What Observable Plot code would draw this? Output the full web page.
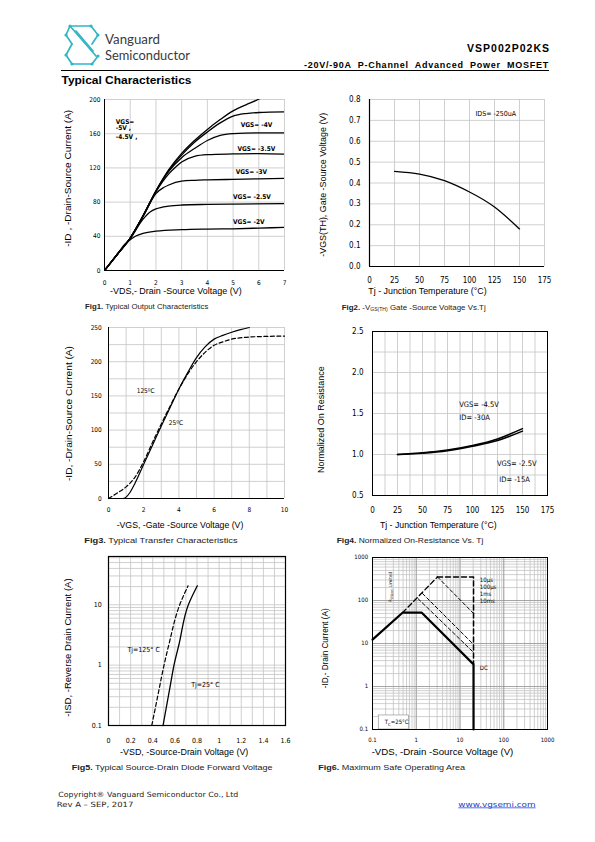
<!DOCTYPE html>
<html><head><meta charset="utf-8">
<script src="https://cdn.jsdelivr.net/npm/d3@7"></script>
<script src="https://cdn.jsdelivr.net/npm/@observablehq/plot@0.6"></script>
<style>
html,body{margin:0;padding:0;background:#fff}
#page{position:relative;width:595px;height:842px;overflow:hidden;background:#fff}
</style></head>
<body><div id="page"></div>
<script>
// ---------------- DATA ----------------
// Fig1 output characteristics  [VDS, ID]
const fig1XTicks = [0,1,2,3,4,5,6,7];
const fig1YTicks = [0,40,80,120,160,200];
const fig1Vgs5  = [[0,0],[0.5,19],[1,38],[1.5,64],[2,93],[2.5,118],[3,137],[3.5,152],[4,165],[4.5,176.5],[5,186.7],[5.5,193.8],[5.9,199],[6.1,202]];
const fig1Vgs45 = [[0,0],[0.5,19],[1,38],[1.5,64],[2,93],[2.5,117],[3,135],[3.5,150],[4,162],[4.5,172.6],[5,180.5],[5.5,183.6],[6,184.8],[7,185.5]];
const fig1Vgs4  = [[0,0],[0.5,19],[1,38],[1.5,64],[2,93],[2.5,116],[3,132],[3.5,142.6],[4,152],[4.5,158],[5,160],[6,161],[7,161]];
const fig1Vgs35 = [[0,0],[0.5,19],[1,38],[1.5,64],[2,92],[2.5,113],[2.8,122],[3,127],[3.5,133.6],[4,135.5],[5,136.3],[6,136.7],[7,136]];
const fig1Vgs3  = [[0,0],[0.5,19],[1,38],[1.5,63],[2,90],[2.3,97],[2.5,100],[3,104.5],[3.5,105.5],[4,106],[5,106.6],[7,107.8]];
const fig1Vgs25 = [[0,0],[0.5,19],[1,37],[1.5,60],[1.8,69],[2,72],[2.5,75.4],[3,76.6],[4,77.3],[5,77.7],[7,78.3]];
const fig1Vgs2  = [[0,0],[0.5,19],[0.8,31],[1,36],[1.2,40],[1.5,43.5],[2,46],[3,47.7],[4,48.4],[5,48.8],[6,49.6],[7,50.4]];
const fig1LabelText = ["VGS= -4V","VGS= -3.5V","VGS= -3V","VGS= -2.5V","VGS= -2V","VGS=","-5V ,","-4.5V ,"];
const fig1LabelVds  = [5.3,5.17,5.1,5.0,5.0,0.44,0.44,0.44];
const fig1LabelId   = [170,142,115,86,56.5,174,166.5,156];

// Fig2 threshold voltage vs Tj
const fig2XTicks = [0,25,50,75,100,125,150,175];
const fig2YTicks = [0,0.1,0.2,0.3,0.4,0.5,0.6,0.7,0.8];
const fig2Tj  = [25,50,75,100,125,150];
const fig2Vth = [0.456,0.443,0.411,0.357,0.285,0.18];
const fig2LabelText = ["IDS= -250uA"];
const fig2LabelTj = [106];
const fig2LabelV  = [0.73];

// Fig3 transfer characteristics [VGS, ID]
const fig3XTicks = [0,2,4,6,8,10];
const fig3XGrid  = [0,1,2,3,4,5,6,7,8,9,10];
const fig3YTicks = [0,50,100,150,200,250];
const fig3YGrid  = [0,25,50,75,100,125,150,175,200,225,250];
const fig3T25  = [[0,0],[0.8,0],[1,2],[1.2,8],[1.5,22],[2,50],[2.5,78],[3,106],[3.5,133],[4,160],[4.5,184],[5,206],[5.5,222],[6,233],[6.5,238.5],[7,243],[7.5,247],[8,250]];
const fig3T125 = [[0,0],[0.5,8],[1,17],[1.5,31],[2,54],[2.5,82],[3,109],[3.5,135],[4,160],[4.5,182],[5,200],[5.5,214],[6,224],[6.5,229],[7,233],[8,236],[9,237],[10,237.5]];
const fig3LabelText = ["125ºC","25ºC"];
const fig3LabelVgs  = [1.6,3.43];
const fig3LabelId   = [158,111];

// Fig4 normalized on-resistance vs Tj
const fig4XTicks = [0,25,50,75,100,125,150,175];
const fig4XGrid  = [0,12.5,25,37.5,50,62.5,75,87.5,100,112.5,125,137.5,150,162.5,175];
const fig4YTicks = [0.5,1.0,1.5,2.0,2.5];
const fig4YGrid  = [0.5,0.75,1.0,1.25,1.5,1.75,2.0,2.25,2.5];
const fig4Tj   = [25,50,75,100,125,150];
const fig4R45  = [1.0,1.02,1.055,1.11,1.19,1.315];
const fig4R25  = [1.0,1.015,1.045,1.10,1.17,1.285];
const fig4LabelText = ["VGS= -4.5V","ID= -30A","VGS= -2.5V","ID= -15A"];
const fig4LabelTj = [86.7,86.7,124.4,126.7];
const fig4LabelR  = [1.61,1.45,0.89,0.70];

// Fig5 diode forward voltage [VSD, ISD]
const fig5XTicks = [0,0.2,0.4,0.6,0.8,1,1.2,1.4,1.6];
const fig5XGrid  = [0,0.1,0.2,0.3,0.4,0.5,0.6,0.7,0.8,0.9,1,1.1,1.2,1.3,1.4,1.5,1.6];
const fig5YTicks = [0.1,1,10];
const fig5YGrid  = [0.1,0.2,0.3,0.4,0.5,0.6,0.7,0.8,0.9,1,2,3,4,5,6,7,8,9,10,20,30,40,50,60];
const fig5Tj25  = [[0.493,0.1],[0.562,0.5],[0.592,1],[0.638,2.24],[0.722,10],[0.803,20.6]];
const fig5Tj125 = [[0.391,0.1],[0.444,0.3],[0.502,1],[0.547,2.24],[0.644,10],[0.719,20.6]];
const fig5LabelText = ["Tj=125° C","Tj=25° C"];
const fig5LabelV = [0.171,0.747];
const fig5LabelI = [1.8,0.476];

// Fig6 safe operating area [VDS, ID]
const fig6Ticks = [0.1,1,10,100,1000];
const fig6Grid  = [0.1,0.2,0.3,0.4,0.5,0.6,0.7,0.8,0.9,1,2,3,4,5,6,7,8,9,10,20,30,40,50,60,70,80,90,100,200,300,400,500,600,700,800,900,1000];
const fig6DC    = [[0.1,12.3],[0.485,52],[1.34,52],[20.4,3.27],[20.4,0.1]];
const fig6RLim  = [[0.485,52],[3.06,353]];
const fig6Us10  = [[3.06,353],[20.4,353],[20.4,3.4]];
const fig6Us100 = [[3.06,353],[20.4,50]];
const fig6Ms1   = [[1.39,145],[20.4,9.5]];
const fig6Ms10  = [[1.1,110],[20.4,6.2]];
const fig6LabelText = ["10μs","100μs","1ms","10ms","DC"];
const fig6LabelV = [28.4,28.4,28.4,28.4,28.4];
const fig6LabelI = [296,206,140,96,2.74];
const fig6NoteText = ["TC=25°C"];
const fig6NoteV = [0.191];
const fig6NoteI = [0.148];
const fig6NoteBoxV = [0.139,0.676];
const fig6NoteBoxI = [0.1,0.212];
const fig6RLimText = ["RDS(on) Limited"];
const fig6RLimV = [0.262];
const fig6RLimI = [207];

// ---------------- RENDER ----------------
const NARROW = '"Liberation Sans Narrow","Arial Narrow","DejaVu Sans Condensed",sans-serif';
const SANS = '"Liberation Sans",Arial,sans-serif';
const GRID = "#c4c4c4";
const page = document.getElementById("page");
const NS = "http://www.w3.org/2000/svg";
const X = d => d[0], Y = d => d[1];

function mk(cfg) {
  const ml = 40, mr = 15, mt = 10, mb = 25;
  const svg = Plot.plot({
    width: cfg.R - cfg.L + ml + mr,
    height: cfg.B - cfg.T + mt + mb,
    marginLeft: ml, marginRight: mr, marginTop: mt, marginBottom: mb,
    x: cfg.x, y: cfg.y,
    style: {background: "none", fontFamily: NARROW, overflow: "visible", color: "black"},
    marks: cfg.marks
  });
  svg.style.position = "absolute";
  svg.style.left = (cfg.L - ml) + "px";
  svg.style.top = (cfg.T - mt) + "px";
  page.appendChild(svg);
  return svg;
}
const gx = (t, o={}) => Plot.gridX(t, {stroke: GRID, strokeOpacity: 1, strokeWidth: 0.8, ...o});
const gy = (t, o={}) => Plot.gridY(t, {stroke: GRID, strokeOpacity: 1, strokeWidth: 0.8, ...o});
const ax = (t, pad, fs, fmt) => Plot.axisX(t, {tickSize: 0, tickPadding: pad, fontSize: fs, label: null, tickFormat: fmt});
const ay = (t, pad, fs, fmt) => Plot.axisY(t, {tickSize: 0, tickPadding: pad, fontSize: fs, label: null, tickFormat: fmt});
const idx = a => a.map((_, i) => i);

// Fig1
mk({L:104, R:284, T:99, B:270,
  x: {domain: [0,7]}, y: {domain: [0,200]},
  marks: [
    gx(fig1XTicks), gy(fig1YTicks),
    Plot.ruleX([0], {stroke: "black", strokeWidth: 1}),
    Plot.ruleY([0], {stroke: "black", strokeWidth: 1}),
    ax(fig1XTicks, 9.4, 6.5, d3.format("d")), ay(fig1YTicks, 4, 6.5, d3.format("d")),
    ...[fig1Vgs5, fig1Vgs45, fig1Vgs4, fig1Vgs35, fig1Vgs3, fig1Vgs25, fig1Vgs2].map(s =>
      Plot.line(s, {x: X, y: Y, stroke: "black", strokeWidth: 1.3, curve: "monotone-x", clip: true})),
    Plot.text(idx(fig1LabelText), {x: i => fig1LabelVds[i], y: i => fig1LabelId[i], text: i => fig1LabelText[i],
      textAnchor: "start", fontSize: 6.5, fontWeight: "bold", fill: "black"})
  ]});

// Fig2
mk({L:369, R:544, T:99, B:266,
  x: {domain: [0,175]}, y: {domain: [0,0.8]},
  marks: [
    gx(fig2XTicks), gy(fig2YTicks),
    Plot.ruleX([0], {stroke: "black", strokeWidth: 1.2}),
    Plot.ruleY([0], {stroke: "black", strokeWidth: 1.2}),
    ax(fig2XTicks, 10.4, 8, d3.format("d")), ay(fig2YTicks, 9, 8, d3.format(".1f")),
    Plot.line(idx(fig2Tj), {x: i => fig2Tj[i], y: i => fig2Vth[i], stroke: "black", strokeWidth: 1.3, curve: "natural"}),
    Plot.text(idx(fig2LabelText), {x: i => fig2LabelTj[i], y: i => fig2LabelV[i], text: i => fig2LabelText[i],
      textAnchor: "start", fontSize: 7, fill: "black"})
  ]});

// Fig3
mk({L:108, R:284, T:327, B:498,
  x: {domain: [0,10]}, y: {domain: [0,250]},
  marks: [
    gx(fig3XGrid), gy(fig3YGrid),
    Plot.ruleX([0], {stroke: "black", strokeWidth: 1}),
    Plot.ruleY([0], {stroke: "black", strokeWidth: 1}),
    ax(fig3XTicks, 8.4, 6.5, d3.format("d")), ay(fig3YTicks, 6.7, 6.5, d3.format("d")),
    Plot.line(fig3T25, {x: X, y: Y, stroke: "black", strokeWidth: 1.2, curve: "monotone-x"}),
    Plot.line(fig3T125, {x: X, y: Y, stroke: "black", strokeWidth: 1.2, strokeDasharray: "4,2.5", curve: "monotone-x"}),
    Plot.text(idx(fig3LabelText), {x: i => fig3LabelVgs[i], y: i => fig3LabelId[i], text: i => fig3LabelText[i],
      textAnchor: "start", fontSize: 6.5, fill: "black"})
  ]});

// Fig4
mk({L:372, R:547, T:331, B:495,
  x: {domain: [0,175]}, y: {domain: [0.5,2.5]},
  marks: [
    gx(fig4XGrid), gy(fig4YGrid),
    Plot.frame({stroke: "black", strokeWidth: 1}),
    ax(fig4XTicks, 12, 8, d3.format("d")), ay(fig4YTicks, 9, 8, d3.format(".1f")),
    Plot.line(idx(fig4Tj), {x: i => fig4Tj[i], y: i => fig4R45[i], stroke: "black", strokeWidth: 1.5, curve: "monotone-x"}),
    Plot.line(idx(fig4Tj), {x: i => fig4Tj[i], y: i => fig4R25[i], stroke: "black", strokeWidth: 1.5, curve: "monotone-x"}),
    Plot.text(idx(fig4LabelText), {x: i => fig4LabelTj[i], y: i => fig4LabelR[i], text: i => fig4LabelText[i],
      textAnchor: "start", fontSize: 7.5, fill: "black"})
  ]});

// Fig5
mk({L:108, R:285, T:556, B:725,
  x: {domain: [0,1.6]}, y: {type: "log", domain: [0.1,63]},
  marks: [
    gx(fig5XGrid), gy(fig5YGrid),
    Plot.frame({stroke: "black", strokeWidth: 1.2}),
    ax(fig5XTicks, 12.5, 7, d3.format("~g")), ay(fig5YTicks, 6.7, 7, d3.format("~g")),
    Plot.line(fig5Tj25, {x: X, y: Y, stroke: "black", strokeWidth: 1.3, curve: "monotone-y"}),
    Plot.line(fig5Tj125, {x: X, y: Y, stroke: "black", strokeWidth: 1.2, strokeDasharray: "4,2.5", curve: "monotone-y"}),
    Plot.text(idx(fig5LabelText), {x: i => fig5LabelV[i], y: i => fig5LabelI[i], text: i => fig5LabelText[i],
      textAnchor: "start", fontSize: 7, fill: "black"})
  ]});

// Fig6
const fig6svg = mk({L:372, R:547, T:557, B:729,
  x: {type: "log", domain: [0.1,1000]}, y: {type: "log", domain: [0.1,1000]},
  marks: [
    gx(fig6Grid), gy(fig6Grid),
    gx(fig6Ticks, {stroke: "#999"}), gy(fig6Ticks, {stroke: "#999"}),
    Plot.rect([0], {x1: () => fig6NoteBoxV[0], x2: () => fig6NoteBoxV[1], y1: () => fig6NoteBoxI[0], y2: () => fig6NoteBoxI[1],
      fill: "white", stroke: "#888", strokeWidth: 0.6}),
    Plot.frame({stroke: "black", strokeWidth: 1}),
    ax(fig6Ticks, 8.1, 6, d3.format("~g")), ay(fig6Ticks, 4.4, 6, d3.format("~g")),
    Plot.line(fig6RLim, {x: X, y: Y, stroke: "black", strokeWidth: 1.3, strokeDasharray: "5,3"}),
    Plot.line(fig6Us10, {x: X, y: Y, stroke: "black", strokeWidth: 1.5, strokeDasharray: "5,3"}),
    Plot.line(fig6Us100, {x: X, y: Y, stroke: "black", strokeWidth: 1, strokeDasharray: "3.5,2.5"}),
    Plot.line(fig6Ms1, {x: X, y: Y, stroke: "black", strokeWidth: 1, strokeDasharray: "3.5,2.5"}),
    Plot.line(fig6Ms10, {x: X, y: Y, stroke: "black", strokeWidth: 1, strokeDasharray: "3.5,2.5"}),
    Plot.line(fig6DC, {x: X, y: Y, stroke: "black", strokeWidth: 2.2}),
    Plot.text(idx(fig6LabelText), {x: i => fig6LabelV[i], y: i => fig6LabelI[i], text: i => fig6LabelText[i],
      textAnchor: "start", fontSize: 6, fill: "black"}),
    Plot.text(idx(fig6NoteText), {x: i => fig6NoteV[i], y: i => fig6NoteI[i], text: i => fig6NoteText[i],
      textAnchor: "start", fontSize: 6, fill: "black"}),
    Plot.text(idx(fig6RLimText), {x: i => fig6RLimV[i], y: i => fig6RLimI[i], text: i => fig6RLimText[i],
      rotate: -90, fontSize: 4.6, fill: "black"})
  ]});
// subscripts in Fig6 annotations
fig6svg.querySelectorAll("text").forEach(el => {
  if (el.textContent === "TC=25°C") el.innerHTML = 'T<tspan font-size="4.2" dy="1.5">C</tspan><tspan dy="-1.5">=25°C</tspan>';
  if (el.textContent === "RDS(on) Limited") el.innerHTML = 'R<tspan font-size="3.4" dy="1">DS(on)</tspan><tspan dy="-1"> Limited</tspan>';
});

// ---------------- PAGE TEXT (overlay) ----------------
const ov = document.createElementNS(NS, "svg");
ov.setAttribute("width", 595); ov.setAttribute("height", 842);
ov.style.position = "absolute"; ov.style.left = "0"; ov.style.top = "0";
page.appendChild(ov);
function T(x, y, html, o = {}) {
  const el = document.createElementNS(NS, "text");
  el.setAttribute("x", x); el.setAttribute("y", y);
  el.setAttribute("font-family", o.family || SANS);
  el.setAttribute("font-size", o.size || 8.5);
  el.setAttribute("fill", o.fill || "black");
  if (o.weight) el.setAttribute("font-weight", o.weight);
  if (o.anchor) el.setAttribute("text-anchor", o.anchor);
  if (o.len) { el.setAttribute("textLength", o.len); el.setAttribute("lengthAdjust", o.adjust || "spacingAndGlyphs"); }
  if (o.rotate) el.setAttribute("transform", `rotate(-90 ${x} ${y})`);
  if (o.deco) el.setAttribute("text-decoration", o.deco);
  el.innerHTML = html;
  ov.appendChild(el);
  return el;
}
// logo
const logo = document.createElementNS(NS, "g");
logo.innerHTML = `
<g stroke="#33b5c7" stroke-width="1.7" fill="none" stroke-linejoin="round" stroke-linecap="round">
  <path d="M70,26 H91 L98,35"/>
  <path d="M70,26 L66,35 L72,44"/>
  <path d="M70,26 L96,56"/>
  <path d="M76,31 L93,51"/>
  <path d="M72,44 L66,55 L72,64 H92 L98,56"/>
  <path d="M98,35 L92,44"/>
</g>
<g fill="#33b5c7">
  <circle cx="70" cy="26" r="1.6"/><circle cx="91" cy="26" r="1.6"/><circle cx="98" cy="35" r="1.6"/>
  <circle cx="66" cy="35" r="1.6"/><circle cx="66" cy="55" r="1.6"/><circle cx="72" cy="64" r="1.6"/>
  <circle cx="92" cy="64" r="1.6"/><circle cx="98" cy="56" r="1.6"/>
</g>`;
ov.appendChild(logo);
T(105, 43.5, "Vanguard", {family: 'Lato,"Open Sans",sans-serif', size: 14, fill: "#3a3a3a", len: 55});
T(105, 60, "Semiconductor", {family: 'Lato,"Open Sans",sans-serif', size: 14, fill: "#3a3a3a", len: 85});
T(467, 52, "VSP002P02KS", {size: 10.5, weight: "bold", len: 82, adjust: "spacing"});
const sub = T(549, 68, "-20V/-90A P-Channel Advanced Power MOSFET", {size: 9, weight: "bold", anchor: "end"});
sub.setAttribute("word-spacing", 3);
{
  const w = sub.getComputedTextLength();
  const n = sub.textContent.length;
  if (w < 245) sub.setAttribute("letter-spacing", ((245 - w) / n).toFixed(3));
}
const rule = document.createElementNS(NS, "line");
rule.setAttribute("x1", 61); rule.setAttribute("x2", 549); rule.setAttribute("y1", 70.5); rule.setAttribute("y2", 70.5);
rule.setAttribute("stroke", "black"); rule.setAttribute("stroke-width", 1);
ov.appendChild(rule);
T(61.5, 83.5, "Typical Characteristics", {size: 11, weight: "bold", len: 130});

// axis titles
T(175.8, 293.7, "-VDS,- Drain -Source Voltage (V)", {anchor: "middle", len: 131.7});
T(71, 178.3, "-ID , -Drain-Source Current (A)", {anchor: "middle", len: 137, rotate: true});
T(427.5, 293.7, "Tj - Junction Temperature (°C)", {anchor: "middle", len: 118.3});
T(325.7, 184.7, "-VGS(TH), Gate -Source Voltage (V)", {anchor: "middle", len: 144, rotate: true});
T(180, 527.7, "-VGS, -Gate -Source Voltage (V)", {anchor: "middle", len: 126.7});
T(72, 413.5, "-ID, -Drain-Source Current (A)", {anchor: "middle", len: 135, rotate: true});
T(438.3, 527.7, "Tj - Junction Temperature (°C)", {anchor: "middle", len: 116.7});
T(323.7, 419.7, "Normalized On Resistance", {anchor: "middle", len: 106.7, rotate: true});
T(184.2, 754.7, "-VSD, -Source-Drain Voltage (V)", {anchor: "middle", len: 128.3});
T(71.3, 647.5, "-ISD, -Reverse Drain Current (A)", {anchor: "middle", len: 138.3, rotate: true});
T(442.5, 754.7, "-VDS, -Drain -Source Voltage (V)", {anchor: "middle", len: 141.7});
T(328, 648.3, "-ID,- Drain Current (A)", {anchor: "middle", len: 80, rotate: true});

// captions
const cap = (x, y, n, rest, len) => T(x, y, `<tspan font-weight="bold">Fig${n}.</tspan> ${rest}`, {size: 7.8, len, fill: "#222"});
cap(85, 309, 1, "Typical Output Characteristics", 123.3);
cap(341.7, 309.5, 2, '-V<tspan font-size="5" dy="1.5">GS(TH)</tspan><tspan dy="-1.5"> Gate -Source Voltage Vs.Tj</tspan>', 144);
cap(84.3, 542.5, 3, "Typical Transfer Characteristics", 153.3);
cap(336.7, 542.5, 4, "Normalized On-Resistance Vs. Tj", 146.7);
cap(71.7, 769.5, 5, "Typical Source-Drain Diode Forward Voltage", 200.7);
cap(318.3, 769.5, 6, "Maximum Safe Operating Area", 146.7);

// footer
T(58.3, 796.5, "Copyright® Vanguard Semiconductor Co., Ltd", {family: '"DejaVu Sans",Verdana,sans-serif', size: 7.2, len: 180, fill: "#222"});
T(56.7, 806.5, "Rev A – SEP, 2017", {family: '"DejaVu Sans",Verdana,sans-serif', size: 7.2, len: 76.7, fill: "#222"});
T(458.3, 806.5, "www.vgsemi.com", {family: '"DejaVu Sans",Verdana,sans-serif', size: 7.2, len: 77.3, fill: "#1a3cc8", deco: "underline"});
</script>
</body></html>
